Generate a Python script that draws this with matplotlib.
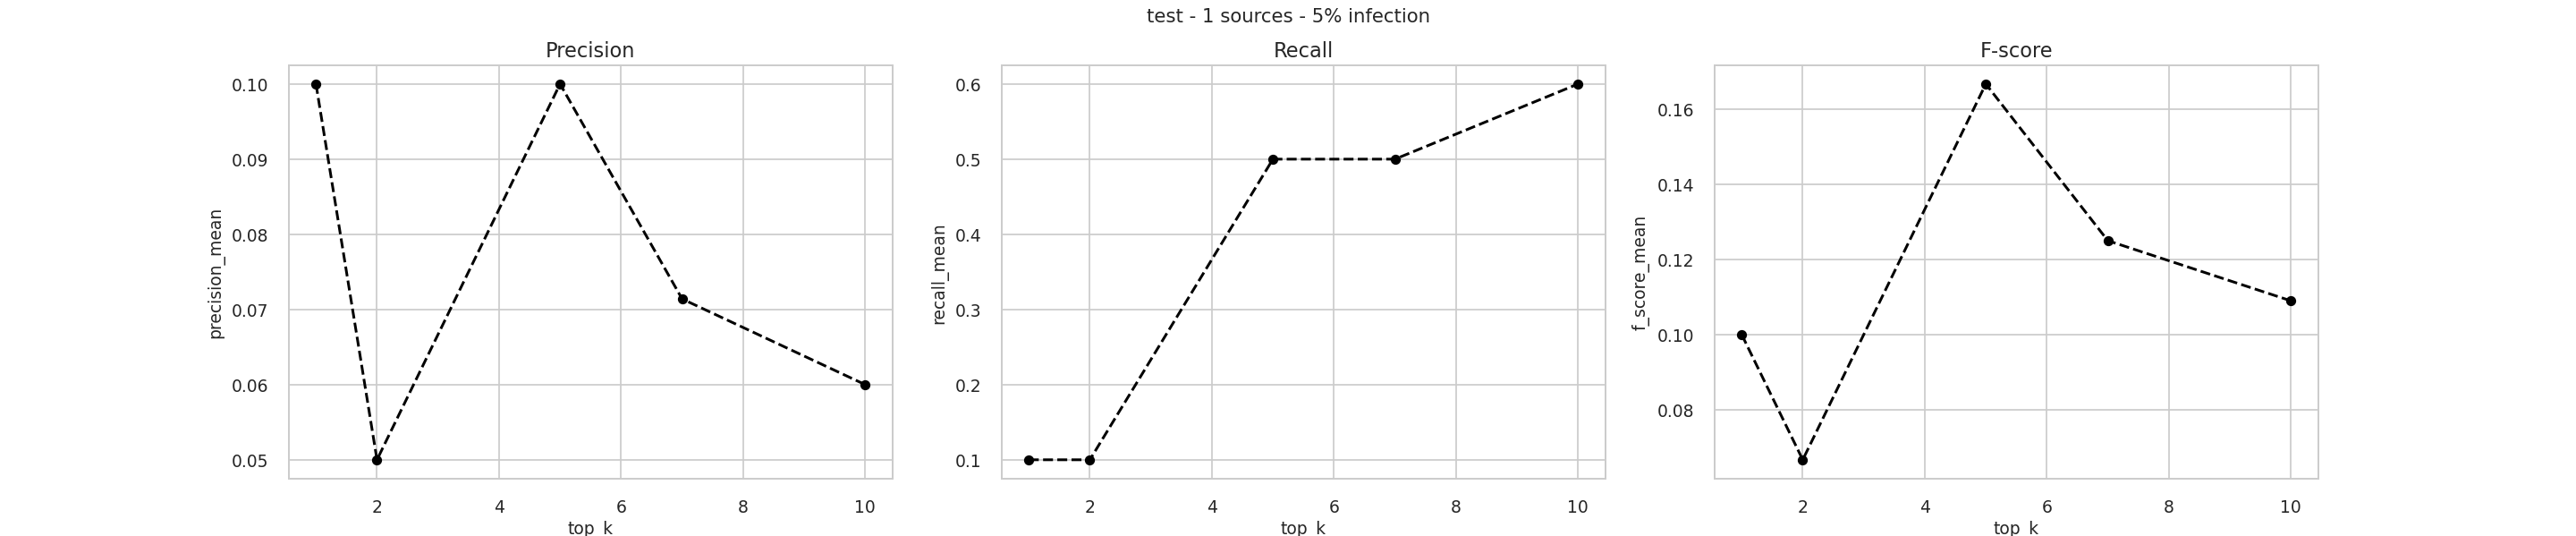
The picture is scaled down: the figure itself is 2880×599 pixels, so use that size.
import matplotlib
matplotlib.use("Agg")
import matplotlib.pyplot as plt
import seaborn as sns

sns.set_theme(style="whitegrid")
plt.rcParams.update({"xtick.labelsize": 7.5, "ytick.labelsize": 7.5,
                     "axes.labelsize": 7.5, "axes.titlesize": 9,
                     "figure.titlesize": 8.5, "grid.linewidth": 0.7,
                     "axes.linewidth": 0.8})
top_k = [1, 2, 5, 7, 10]
precision = [0.10, 0.05, 0.10, 0.0714, 0.06]
recall = [0.1, 0.1, 0.5, 0.5, 0.6]
fscore = [0.10, 0.0667, 0.1667, 0.125, 0.109]

fig, axes = plt.subplots(1, 3, figsize=(16, 3.333), dpi=180)
fig.subplots_adjust(left=0.112, right=0.900, bottom=0.107, top=0.877, wspace=0.18)
for ax, vals, title, ylab in zip(axes, [precision, recall, fscore],
                                 ["Precision", "Recall", "F-score"],
                                 ["precision_mean", "recall_mean", "f_score_mean"]):
    ax.plot(top_k, vals, color="black", linestyle="--", marker="o", markersize=3.5, linewidth=1.2)
    ax.set_title(title, pad=4)
    ax.set_xlabel("top_k", labelpad=2)
    ax.set_ylabel(ylab, labelpad=3)
    ax.set_xticks([2, 4, 6, 8, 10])
    ax.tick_params(pad=3)
axes[1].set_yticks([0.1, 0.2, 0.3, 0.4, 0.5, 0.6])
axes[2].set_yticks([0.08, 0.10, 0.12, 0.14, 0.16])
fig.suptitle("test - 1 sources - 5% infection", y=0.985)
fig.savefig("out.png")
